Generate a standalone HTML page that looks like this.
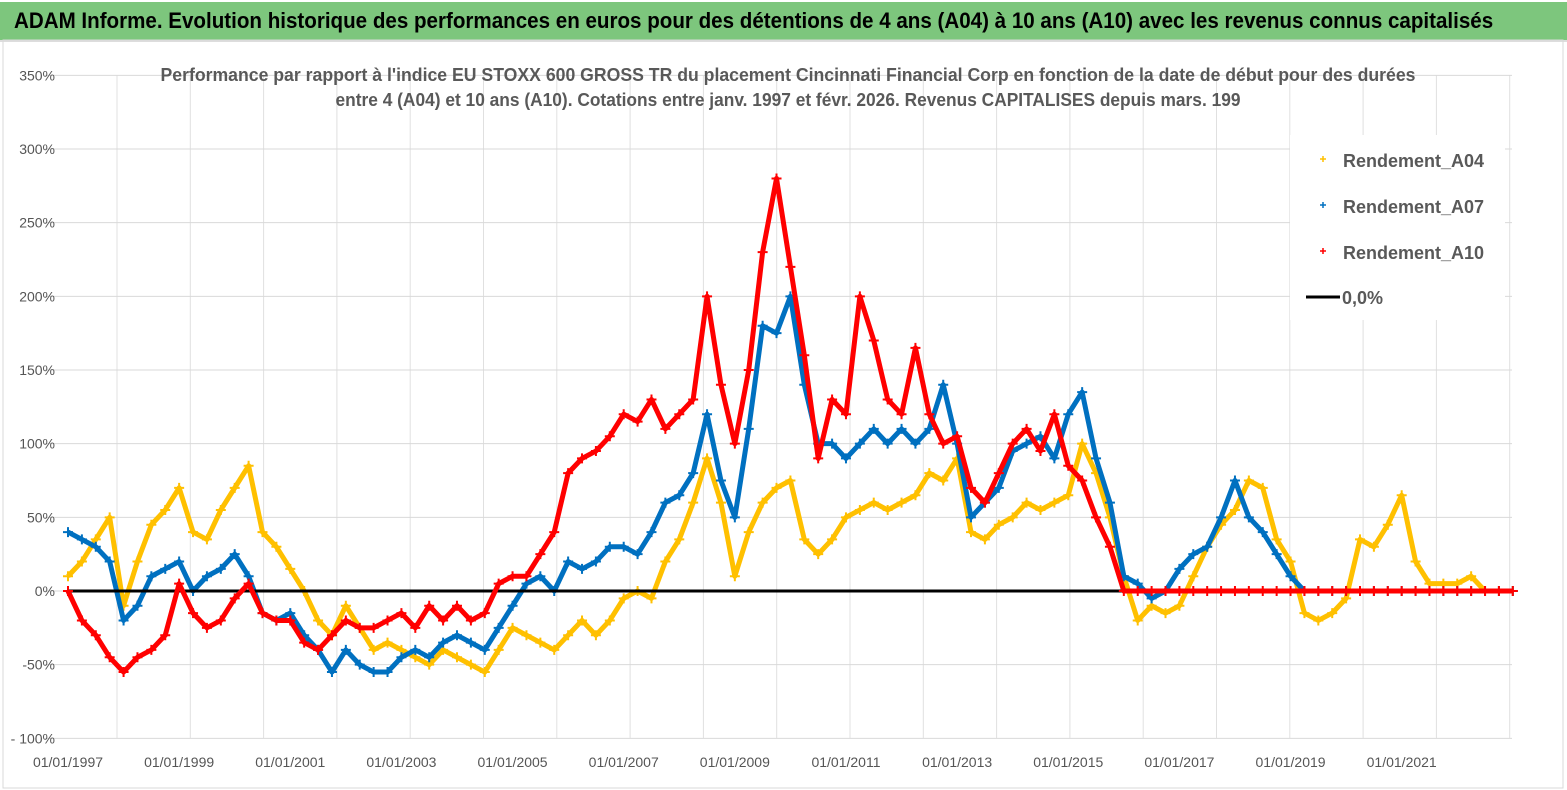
<!DOCTYPE html>
<html><head><meta charset="utf-8">
<style>
body{margin:0;background:#fff;font-family:"Liberation Sans",sans-serif;}
#wrap{position:relative;width:1567px;height:790px;overflow:hidden;background:#fff;}
#hdr{position:absolute;left:0;top:2px;width:1567px;height:38px;background:#7dc67d;border-bottom:2px solid #ddd;}
#hdr span{position:absolute;left:14px;top:6px;font-size:22px;color:#000;font-weight:bold;transform:scaleX(0.935);transform-origin:left;white-space:nowrap;}
</style></head><body>
<div id="wrap">
<div id="hdr"><span>ADAM Informe. Evolution historique des performances en euros pour des détentions de 4 ans (A04) à 10 ans (A10) avec les revenus connus capitalisés</span></div>
<svg id="chart" width="1567" height="790" style="position:absolute;left:0;top:0"></svg>
</div>
<script>
const years=[];for(let i=0;i<=104;i++)years.push(1997+i*0.25);
const yTicks=[350,300,250,200,150,100,50,0,-50,-100];
const xTickYears=[1997,1999,2001,2003,2005,2007,2009,2011,2013,2015,2017,2019,2021];
const a04=[10,20,35,50,-10,20,45,55,70,40,35,55,70,85,40,30,15,0,-20,-30,-10,-25,-40,-35,-40,-45,-50,-40,-45,-50,-55,-40,-25,-30,-35,-40,-30,-20,-30,-20,-5,0,-5,20,35,60,90,60,10,40,60,70,75,35,25,35,50,55,60,55,60,65,80,75,90,40,35,45,50,60,55,60,65,100,80,50,10,-20,-10,-15,-10,10,30,45,55,75,70,35,20,-15,-20,-15,-5,35,30,45,65,20,5,5,5,10,0,0,0];
const a07=[40,35,30,20,-20,-10,10,15,20,0,10,15,25,10,-15,-20,-15,-30,-40,-55,-40,-50,-55,-55,-45,-40,-45,-35,-30,-35,-40,-25,-10,5,10,0,20,15,20,30,30,25,40,60,65,80,120,75,50,110,180,175,200,140,100,100,90,100,110,100,110,100,110,140,100,50,60,70,95,100,105,90,120,135,90,60,10,5,-5,0,15,25,30,50,75,50,40,25,10,0,0,0,0,0,0,0,0,0,0,0,0,0,0,0,0];
const a10=[0,-20,-30,-45,-55,-45,-40,-30,5,-15,-25,-20,-5,5,-15,-20,-20,-35,-40,-30,-20,-25,-25,-20,-15,-25,-10,-20,-10,-20,-15,5,10,10,25,40,80,90,95,105,120,115,130,110,120,130,200,140,100,150,230,280,220,160,90,130,120,200,170,130,120,165,120,100,105,70,60,80,100,110,95,120,85,75,50,30,0,0,0,0,0,0,0,0,0,0,0,0,0,0,0,0,0,0,0,0,0,0,0,0,0,0,0,0,0];
const svg=document.getElementById('chart');const NS='http://www.w3.org/2000/svg';
const X=y=>68+(y-1997)*55.57, Y=v=>591-v*1.4733;
function mk(t,a,p){const e=document.createElementNS(NS,t);for(const k in a)e.setAttribute(k,a[k]);(p||svg).appendChild(e);return e;}
let fr=mk('rect',{x:3,y:40,width:1560,height:748,fill:'none',stroke:'#d9d9d9'});


for(let gx=117;gx<1512;gx+=73.3){let g=mk('line',{x1:gx,x2:gx,y1:75,y2:738,stroke:'#e0e0e0'});

}
yTicks.forEach(v=>{let g=mk('line',{x1:45,x2:1512,y1:Y(v),y2:Y(v),stroke:'#d9d9d9'});


let t=mk('text',{x:55,y:Y(v)+5,'text-anchor':'end','font-size':14,fill:'#555'});t.textContent=(v===-100?'- 100':v)+'%';

});
xTickYears.forEach(y=>{let t=mk('text',{x:X(y),y:767,'text-anchor':'middle','font-size':14,fill:'#555'});t.textContent='01/01/'+y;

});
const tt=['Performance par rapport à l\'indice EU STOXX 600 GROSS TR  du placement Cincinnati Financial Corp en fonction de la date de début pour des durées','entre 4 (A04) et 10 ans (A10). Cotations entre janv. 1997 et févr. 2026. Revenus CAPITALISES depuis mars. 199'];
tt.forEach((s,i)=>{let t=mk('text',{x:788,y:81+i*25,'text-anchor':'middle','font-size':18,'font-weight':'bold',fill:'#595959',textLength:i?905:1255,lengthAdjust:'spacingAndGlyphs'});t.textContent=s;

});
function series(arr,col,name){const g=mk('g',{});


mk('polyline',{points:arr.map((v,i)=>X(years[i])+','+Y(v)).join(' '),fill:'none',stroke:col,'stroke-width':5,'stroke-linejoin':'round'},g);
arr.forEach((v,i)=>{const x=X(years[i]),y=Y(v);
const p=mk('path',{d:`M${x-5},${y}h10M${x},${y-5}v10`,stroke:col,'stroke-width':2},g);

});}
series(a04,'#ffc000','series-a04');
series(a07,'#0070c0','series-a07');
let z=mk('line',{x1:68,x2:1512,y1:591,y2:591,stroke:'#000','stroke-width':3});


series(a10,'#ff0000','series-a10');
const lg=mk('g',{});


mk('rect',{x:1290,y:135,width:215,height:185,fill:'#fff'},lg);
[['Rendement_A04','#ffc000'],['Rendement_A07','#0070c0'],['Rendement_A10','#ff0000']].forEach((d,i)=>{const y=161+i*46;
mk('path',{d:`M1320,${y-2}h6M1323,${y-5}v6`,stroke:d[1],'stroke-width':1.5},lg);
const t=mk('text',{x:1343,y:y+6,'font-size':18,fill:'#595959','font-weight':'bold'},lg);t.textContent=d[0];

});
mk('line',{x1:1306,x2:1340,y1:297,y2:297,stroke:'#000','stroke-width':3},lg);
const t0=mk('text',{x:1342,y:304,'font-size':18,fill:'#595959','font-weight':'bold'},lg);t0.textContent='0,0%';


</script>
</body></html>
